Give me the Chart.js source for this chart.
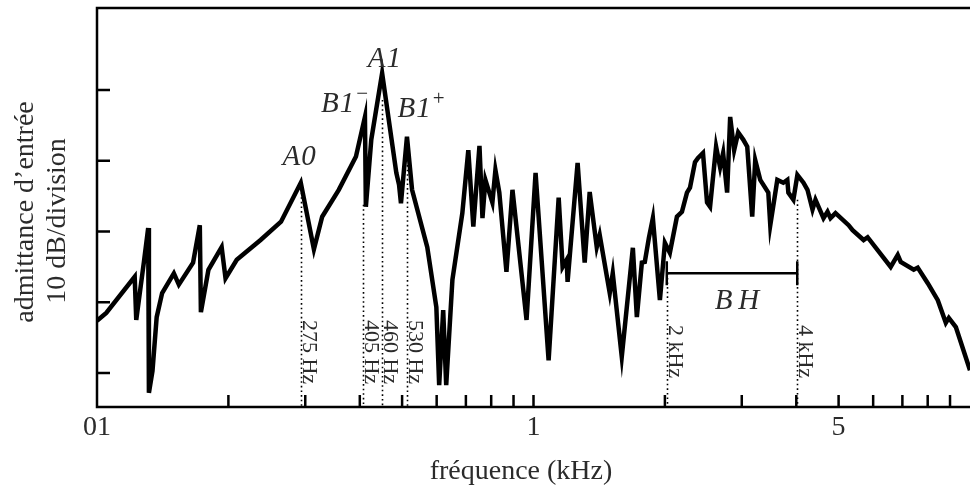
<!DOCTYPE html>
<html>
<head>
<meta charset="utf-8">
<style>
html, body { margin: 0; padding: 0; background: #fff; }
#wrap { width: 970px; height: 486px; position: relative; }
</style>
<script src="https://cdn.jsdelivr.net/npm/chart.js@4.4.0/dist/chart.umd.min.js"></script>
</head>
<body>
<div id="wrap"><canvas id="admChart"></canvas></div>
<script>
// input admittance spectrum, frequency in kHz, level in dB (arbitrary reference)
var freqs = [0.100,0.105,0.122,0.123,0.128,0.131,0.1315,0.134,0.137,0.141,
    0.150,0.154,0.166,0.172,0.173,0.180,0.193,0.197,0.209,0.237,
    0.264,0.293,0.314,0.328,0.358,0.392,0.411,0.413,0.425,0.450,
    0.485,0.492,0.497,0.513,0.527,0.571,0.599,0.608,0.621,0.631,
    0.652,0.687,0.709,0.728,0.752,0.764,0.776,0.805,0.818,0.835,
    0.867,0.895,0.964,1.011,1.083,1.142,1.166,1.191,1.197,1.262,
    1.310,1.345,1.396,1.418,1.495,1.519,1.593,1.689,1.725,1.771,
    1.799,1.838,1.877,1.948,2.000,2.053,2.131,2.188,2.247,2.283,
    2.344,2.382,2.445,2.498,2.538,2.620,2.676,2.719,2.777,2.822,
    2.882,2.944,3.023,3.088,3.170,3.221,3.307,3.451,3.487,3.619,
    3.735,3.815,3.836,3.939,4.023,4.154,4.243,4.357,4.426,4.617,
    4.716,4.791,4.919,5.271,5.383,5.705,5.827,6.581,6.830,6.939,
    7.431,7.590,8.002,8.437,8.802,8.943,9.281,10.0];

var levels = [7.4,8.5,13.6,7.5,15.6,20.5,-2.8,0.3,7.9,11.3,
    14.1,12.5,15.6,20.9,8.6,14.6,17.8,13.4,16.0,18.8,
    21.4,26.9,17.5,22.1,25.9,30.6,36.2,23.5,33.0,42.4,
    28.3,26.6,24.0,33.4,25.9,17.8,9.3,-1.7,8.9,-1.7,
    13.2,22.6,31.5,20.7,32.1,21.9,27.3,24.1,28.7,25.5,
    14.3,25.9,7.5,28.3,1.8,24.8,15.0,16.0,12.9,29.7,
    15.6,25.6,17.8,19.5,11.3,14.1,2.3,17.7,7.9,15.6,
    15.7,19.1,21.9,10.3,18.4,17.0,22.1,22.8,25.5,26.2,
    29.8,30.4,31.1,24.1,23.5,32.0,29.1,31.1,25.5,36.2,
    31.5,34.0,33.0,32.0,22.1,30.1,27.3,25.5,20.9,27.3,
    26.9,27.3,25.5,24.5,28.0,26.9,25.9,23.1,24.5,21.9,
    22.8,21.9,22.6,20.9,20.2,18.8,19.2,15.0,16.7,15.7,
    14.6,14.9,12.7,10.3,7.1,7.8,6.5,0.4];

// axes
var xLabelTicks = [0.1, 1, 5];
var xTickLabels = ['01', '1', '5'];
var xMinorTicks = [0.2,0.3,0.4,0.5,0.6,0.7,0.8,0.9,1,2,3,4,5,6,7,8,9];
var yTicks = [0, 10, 20, 30, 40];

// dotted markers
var markerFreqs = [0.293, 0.407, 0.450, 0.513, 2.02, 4.02];
var markerTops = [25.5, 23.8, 38.6, 29.4, 14.1, 24.5];
var markerLabels = ['275 Hz', '405 Hz', '460 Hz', '530 Hz', '2 kHz', '4 kHz'];
var markerLabelStart = [7.5, 7.5, 7.5, 7.5, 6.8, 6.8];

// mode names
var modeNames = ['A0', 'A1', 'B1', 'B1', 'BH'];
var modeSups = ['', '', '\u2212', '+', ''];
var modeFreqs = [0.266, 0.417, 0.326, 0.488, 2.6];
var modeLevels = [29.4, 43.3, 36.9, 36.2, 9.05];

// band BH
var bandFrom = 2.02, bandTo = 4.02, bandLevel = 14.1;

var points = [];
for (var i = 0; i < freqs.length; i++) {
    points.push({x: freqs[i], y: levels[i]});
}

var serif = '"Liberation Serif", "DejaVu Serif", serif';
var textCol = '#2b2b2b';

var decor = {
    id: 'decor',
    beforeDatasetsDraw: function(chart) {
        var ctx = chart.ctx, xs = chart.scales.x, ys = chart.scales.y;
        var bottom = chart.chartArea.bottom;
        ctx.save();
        ctx.strokeStyle = '#000';
        ctx.lineWidth = 1.6;
        ctx.setLineDash([1.6, 3]);
        for (var i = 0; i < markerFreqs.length; i++) {
            var px = Math.round(xs.getPixelForValue(markerFreqs[i])) + 0.5;
            ctx.beginPath();
            ctx.moveTo(px, ys.getPixelForValue(markerTops[i]));
            ctx.lineTo(px, bottom);
            ctx.stroke();
        }
        ctx.setLineDash([]);
        // BH bar
        var x1 = xs.getPixelForValue(bandFrom), x2 = xs.getPixelForValue(bandTo);
        var by = ys.getPixelForValue(bandLevel);
        ctx.lineWidth = 2.5;
        ctx.beginPath();
        ctx.moveTo(x1, by); ctx.lineTo(x2, by);
        ctx.moveTo(x1, by - 12); ctx.lineTo(x1, by + 12);
        ctx.moveTo(x2, by - 12); ctx.lineTo(x2, by + 12);
        ctx.stroke();
        ctx.restore();
    },
    afterDraw: function(chart) {
        var ctx = chart.ctx, xs = chart.scales.x, ys = chart.scales.y;
        var a = chart.chartArea;
        ctx.save();
        // frame
        ctx.strokeStyle = '#000';
        ctx.lineWidth = 2.5;
        ctx.beginPath();
        ctx.moveTo(a.right, a.top);
        ctx.lineTo(a.left, a.top);
        ctx.lineTo(a.left, a.bottom);
        ctx.lineTo(a.right, a.bottom);
        ctx.stroke();
        // inward ticks
        ctx.beginPath();
        yTicks.forEach(function(v) {
            var py = ys.getPixelForValue(v);
            ctx.moveTo(a.left, py); ctx.lineTo(a.left + 13, py);
        });
        xMinorTicks.forEach(function(v) {
            var px = xs.getPixelForValue(v);
            ctx.moveTo(px, a.bottom); ctx.lineTo(px, a.bottom - 12);
        });
        ctx.stroke();

        // marker labels, turned clockwise
        ctx.fillStyle = textCol;
        ctx.font = '22px ' + serif;
        ctx.textAlign = 'left';
        ctx.textBaseline = 'alphabetic';
        for (var i = 0; i < markerLabels.length; i++) {
            ctx.save();
            ctx.translate(xs.getPixelForValue(markerFreqs[i]) + 2, ys.getPixelForValue(markerLabelStart[i]));
            ctx.rotate(Math.PI / 2);
            ctx.fillText(markerLabels[i], 0, 0);
            ctx.restore();
        }

        // mode names
        for (var j = 0; j < modeNames.length; j++) {
            var mx = xs.getPixelForValue(modeFreqs[j]);
            var my = ys.getPixelForValue(modeLevels[j]);
            ctx.font = 'italic 29px ' + serif;
            ctx.letterSpacing = modeNames[j] === 'BH' ? '6px' : '1px';
            ctx.fillText(modeNames[j], mx, my);
            if (modeSups[j]) {
                var w = ctx.measureText(modeNames[j]).width;
                ctx.letterSpacing = '0px';
                ctx.font = '21px ' + serif;
                ctx.fillText(modeSups[j], mx + w + 1, my - 12);
            }
        }
        ctx.letterSpacing = '0px';

        // axis titles
        ctx.font = '28px ' + serif;
        ctx.textAlign = 'center';
        ctx.fillText('fréquence (kHz)', 521, 479);
        ctx.save();
        ctx.translate(33, 212);
        ctx.rotate(-Math.PI / 2);
        ctx.fillText('admittance d\u2019entrée', 0, 0);
        ctx.restore();
        ctx.save();
        ctx.translate(65, 221);
        ctx.rotate(-Math.PI / 2);
        ctx.fillText('10 dB/division', 0, 0);
        ctx.restore();
        ctx.restore();
    }
};

var ctx = document.getElementById('admChart').getContext('2d');
var admChart = new Chart(ctx, {
    type: 'line',
    data: {
        datasets: [{
            data: points,
            borderColor: '#000',
            borderWidth: 4.5,
            borderJoinStyle: 'miter',
            pointRadius: 0,
            tension: 0,
            fill: false
        }]
    },
    options: {
        responsive: true,
        maintainAspectRatio: false,
        devicePixelRatio: 1,
        animation: false,
        layout: { padding: { top: 8, right: 0, left: 0, bottom: 0 } },
        plugins: { legend: { display: false }, tooltip: { enabled: false } },
        scales: {
            x: {
                type: 'logarithmic',
                min: 0.1,
                max: 10,
                grid: { display: false, drawTicks: false },
                border: { display: false },
                afterBuildTicks: function(scale) {
                    scale.ticks = xLabelTicks.map(function(v) { return {value: v}; });
                },
                afterFit: function(scale) { scale.height = 79; },
                ticks: {
                    autoSkip: false,
                    maxRotation: 0,
                    padding: 4,
                    color: textCol,
                    font: { family: serif, size: 28 },
                    callback: function(value, index) { return xTickLabels[index]; }
                }
            },
            y: {
                min: -4.8,
                max: 51.6,
                grid: { display: false, drawTicks: false },
                border: { display: false },
                afterBuildTicks: function(scale) {
                    scale.ticks = yTicks.map(function(v) { return {value: v}; });
                },
                afterFit: function(scale) { scale.width = 97; },
                ticks: { display: false }
            }
        }
    },
    plugins: [decor]
});
</script>
</body>
</html>
